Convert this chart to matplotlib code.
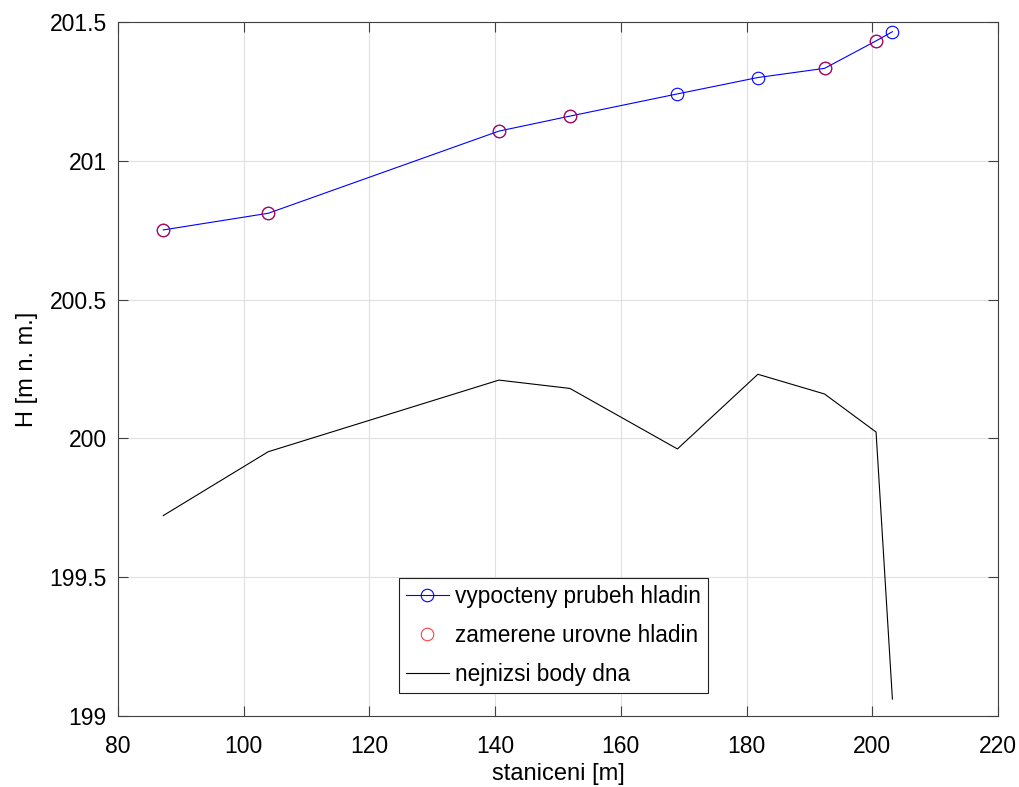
import matplotlib
matplotlib.use("Agg")
import matplotlib.pyplot as plt

# Data
stations = [87.2, 103.9, 140.6, 151.9, 169.0, 181.8, 192.4, 200.6, 203.2]
water_calc = [200.751, 200.811, 201.107, 201.161, 201.241, 201.300, 201.333, 201.432, 201.465]
meas_stations = [87.2, 103.9, 140.6, 151.9, 192.4, 200.6]
water_meas = [200.751, 200.811, 201.107, 201.161, 201.333, 201.432]
bed_min = [199.722, 199.952, 200.210, 200.180, 199.962, 200.231, 200.160, 200.023, 199.061]

xticks = [80, 100, 120, 140, 160, 180, 200, 220]
yticks = [199, 199.5, 200, 200.5, 201, 201.5]
ytick_labels = ["199", "199.5", "200", "200.5", "201", "201.5"]

plt.rcParams['font.family'] = ['Liberation Sans', 'DejaVu Sans']

fig = plt.figure(figsize=(10.19, 7.87), dpi=100)
ax = fig.add_axes([118/1019, 1-716/787, 880/1019, 694/787])

ax.plot(stations, water_calc, color='#0000ff', lw=0.8, marker='o', ms=9,
        mfc='none', mec='#0000ff', mew=0.8, label='vypocteny prubeh hladin', zorder=3)
ax.plot(meas_stations, water_meas, ls='none', marker='o', ms=9,
        mfc='none', mec='#ff0000', mew=0.8, alpha=0.75, label='zamerene urovne hladin', zorder=4)
ax.plot(stations, bed_min, color='black', lw=0.8, label='nejnizsi body dna', zorder=3)

ax.set_xlim(80, 220)
ax.set_ylim(199, 201.5)
ax.set_xticks(xticks)
ax.set_yticks(yticks)
ax.set_yticklabels(ytick_labels)
ax.grid(True, color='#e0e0e0', lw=0.8)
ax.set_axisbelow(True)
ax.tick_params(direction='in', length=7, width=0.8, color='#404040',
               labelsize=16.5, top=True, right=True)
ax.tick_params(axis='y', pad=8)
ax.tick_params(axis='x', pad=14)
for s in ax.spines.values():
    s.set_color('#404040')
    s.set_linewidth(0.8)

ax.set_xlabel('staniceni [m]', fontsize=17, labelpad=3)
ax.set_ylabel('H [m n. m.]', fontsize=17, labelpad=8)

leg = ax.legend(loc='lower left', bbox_to_anchor=(0.319, 0.033), borderaxespad=0,
                fontsize=16.3, frameon=True, fancybox=False, framealpha=1,
                edgecolor='#202020', labelspacing=0.72, handlelength=1.9,
                handletextpad=0.3, borderpad=0.3)
leg.get_frame().set_linewidth(0.8)

fig.savefig('out.png', dpi=100)
